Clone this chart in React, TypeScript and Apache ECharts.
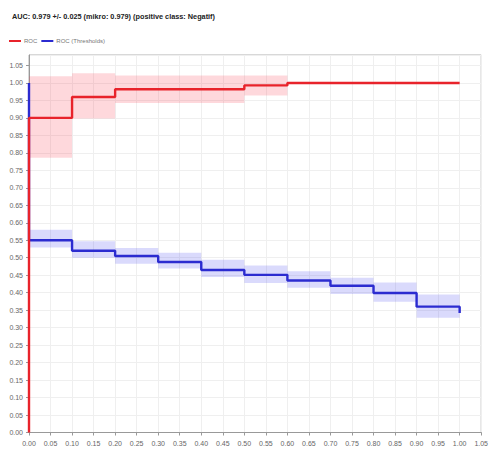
import React, { useEffect, useRef } from "react";
import * as echarts from "echarts";

const titleText = "AUC: 0.979 +/- 0.025 (mikro: 0.979) (positive class: Negatif)";

// ROC (red)
const rocBreaks = [0, 0.1, 0.2, 0.5, 0.6, 1.0];
const rocValues = [0.9, 0.96, 0.982, 0.993, 1.0];
const rocBandLow = [0.786, 0.898, 0.943, 0.964, 1.0];
const rocBandHigh = [1.019, 1.028, 1.021, 1.021, 1.0];

// ROC (Thresholds) (blue)
const thrBreaks = [0, 0.1, 0.2, 0.3, 0.4, 0.5, 0.6, 0.7, 0.8, 0.9, 1.0];
const thrStart = 1.0;
const thrValues = [0.55, 0.52, 0.505, 0.488, 0.465, 0.451, 0.435, 0.42, 0.399, 0.36];
const thrEnd = 0.342;
const thrBandLow = [0.529, 0.5, 0.483, 0.469, 0.445, 0.428, 0.414, 0.396, 0.374, 0.328];
const thrBandHigh = [0.58, 0.547, 0.528, 0.514, 0.494, 0.478, 0.461, 0.443, 0.429, 0.395];

function stepPoints(breaks: number[], values: number[], start: number | null, end: number | null) {
  const pts: number[][] = [];
  if (start !== null) pts.push([breaks[0], start]);
  for (let i = 0; i < values.length; i++) {
    pts.push([breaks[i], values[i]]);
    pts.push([breaks[i + 1], values[i]]);
  }
  if (end !== null) pts.push([breaks[breaks.length - 1], end]);
  return pts;
}

function bandData(breaks: number[], lo: number[], hi: number[]) {
  return lo.map((l, i) => [breaks[i], breaks[i + 1], l, hi[i]]);
}

function bandSeries(name: string, data: number[][], color: string) {
  return {
    type: "custom",
    name,
    silent: true,
    z: 1,
    renderItem: (params: any, api: any) => {
      const p0 = api.coord([api.value(0), api.value(3)]);
      const p1 = api.coord([api.value(1), api.value(2)]);
      return {
        type: "rect",
        shape: { x: p0[0], y: p0[1], width: p1[0] - p0[0], height: p1[1] - p0[1] },
        style: { fill: color },
      };
    },
    encode: { x: [0, 1], y: [2, 3] },
    data,
  };
}

export default function App() {
  const ref = useRef<HTMLDivElement>(null);
  useEffect(() => {
    if (!ref.current) return;
    const chart = echarts.init(ref.current, null, { renderer: "svg" });
    const axisLabel = { fontSize: 7, color: "#666", fontFamily: "Liberation Sans" };
    chart.setOption({
      animation: false,
      backgroundColor: "#fff",
      title: {
        text: titleText,
        left: 7,
        top: 8,
        textStyle: {
          fontSize: 7.3,
          fontWeight: "bold",
          color: "#222",
          fontFamily: "Liberation Sans",
        },
      },
      legend: {
        left: 4,
        top: 33,
        itemWidth: 12,
        itemHeight: 2,
        itemGap: 4,
        icon: "rect",
        textStyle: { fontSize: 6, color: "#777", fontFamily: "Liberation Sans", padding: [0, 0, 0, -2] },
        data: [
          { name: "ROC", itemStyle: { color: "#e8232b" } },
          { name: "ROC (Thresholds)", itemStyle: { color: "#2b2bd0" } },
        ],
      },
      grid: { left: 29, right: 6, top: 55, bottom: 20.5, show: true, borderColor: "#b0b0b0", borderWidth: 1 },
      xAxis: {
        type: "value",
        min: 0,
        max: 1.05,
        interval: 0.05,
        axisLine: { show: true, lineStyle: { color: "#999" } },
        axisTick: { show: true, length: 3, lineStyle: { color: "#999" } },
        axisLabel: { ...axisLabel, margin: 7, formatter: (v: number) => v.toFixed(2), showMaxLabel: true },
        splitLine: { show: true, lineStyle: { color: "#efefef", width: 1 } },
      },
      yAxis: {
        type: "value",
        min: 0,
        max: 1.08,
        interval: 0.05,
        axisLine: { show: true, lineStyle: { color: "#999" } },
        axisTick: { show: true, length: 3, lineStyle: { color: "#999" } },
        axisLabel: {
          ...axisLabel,
          margin: 6,
          showMaxLabel: false,
          formatter: (v: number) => (v > 1.051 ? "" : v.toFixed(2)),
        },
        splitLine: { show: true, lineStyle: { color: "#efefef", width: 1 } },
      },
      series: [
        bandSeries("ROC band", bandData(rocBreaks, rocBandLow, rocBandHigh), "rgba(250,60,80,0.2)"),
        bandSeries("Thr band", bandData(thrBreaks, thrBandLow, thrBandHigh), "rgba(70,70,240,0.2)"),
        {
          type: "line",
          name: "ROC (Thresholds)",
          data: stepPoints(thrBreaks, thrValues, thrStart, thrEnd),
          showSymbol: false,
          z: 3,
          lineStyle: { color: "#2b2bd0", width: 2.4 },
          itemStyle: { color: "#2b2bd0" },
        },
        {
          type: "line",
          name: "ROC",
          data: stepPoints(rocBreaks, rocValues, 0, null),
          showSymbol: false,
          z: 4,
          lineStyle: { color: "#e8232b", width: 2.4 },
          itemStyle: { color: "#e8232b" },
        },
      ],
    });
    return () => chart.dispose();
  }, []);
  return <div ref={ref} style={{ width: 491, height: 453, position: "absolute", left: 0, top: 0 }} />;
}
